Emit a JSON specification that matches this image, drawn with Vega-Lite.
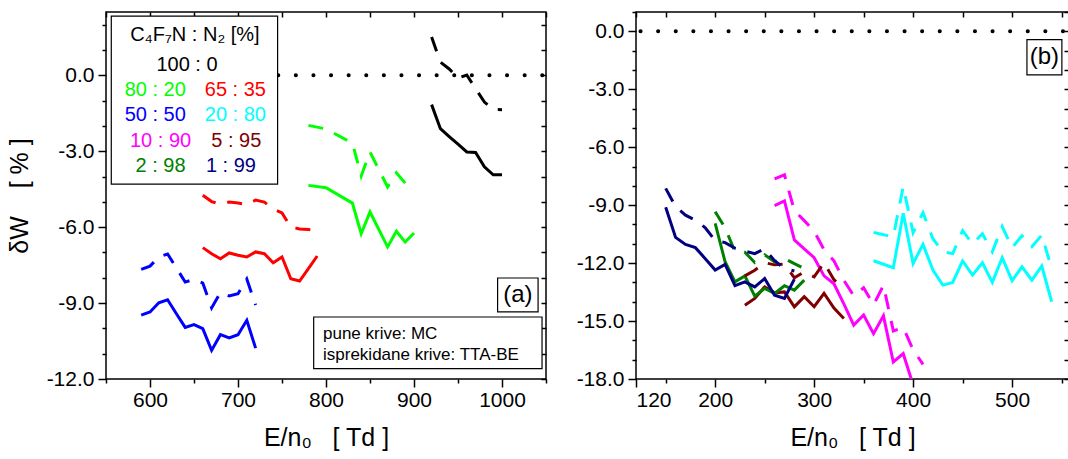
{
  "$schema": "https://vega.github.io/schema/vega-lite/v6.json",
  "padding": {"left": 6, "top": 10, "right": 0, "bottom": 0},
  "background": "white",
  "config": {
    "view": {"stroke": "black", "strokeWidth": 1.5},
    "axis": {"labelFont": "Liberation Sans", "labelFontSize": 21, "labelColor": "black", "titleFont": "Liberation Sans", "titleFontSize": 25, "titleFontWeight": "normal", "titleColor": "black", "tickColor": "black", "tickWidth": 1.5, "domain": false, "grid": false},
    "text": {"font": "Liberation Sans"}
  },
  "spacing": 26,
  "datasets": {
    "curves": [
      {"panel":"a","mix":"100 : 0","method":"MC","E":920,"dW":-1.16},
      {"panel":"a","mix":"100 : 0","method":"MC","E":930,"dW":-2.11},
      {"panel":"a","mix":"100 : 0","method":"MC","E":940,"dW":-2.42},
      {"panel":"a","mix":"100 : 0","method":"MC","E":950,"dW":-2.72},
      {"panel":"a","mix":"100 : 0","method":"MC","E":960,"dW":-3.03},
      {"panel":"a","mix":"100 : 0","method":"MC","E":970,"dW":-3.05},
      {"panel":"a","mix":"100 : 0","method":"MC","E":980,"dW":-3.62},
      {"panel":"a","mix":"100 : 0","method":"MC","E":990,"dW":-3.93},
      {"panel":"a","mix":"100 : 0","method":"MC","E":1000,"dW":-3.93},
      {"panel":"a","mix":"100 : 0","method":"TTA-BE","E":920,"dW":1.51},
      {"panel":"a","mix":"100 : 0","method":"TTA-BE","E":930,"dW":0.52},
      {"panel":"a","mix":"100 : 0","method":"TTA-BE","E":940,"dW":0.25},
      {"panel":"a","mix":"100 : 0","method":"TTA-BE","E":950,"dW":-0.11},
      {"panel":"a","mix":"100 : 0","method":"TTA-BE","E":960,"dW":0.01},
      {"panel":"a","mix":"100 : 0","method":"TTA-BE","E":970,"dW":-0.53},
      {"panel":"a","mix":"100 : 0","method":"TTA-BE","E":980,"dW":-1.06},
      {"panel":"a","mix":"100 : 0","method":"TTA-BE","E":990,"dW":-1.35},
      {"panel":"a","mix":"100 : 0","method":"TTA-BE","E":1000,"dW":-1.36},
      {"panel":"a","mix":"80 : 20","method":"MC","E":780,"dW":-4.35},
      {"panel":"a","mix":"80 : 20","method":"MC","E":800,"dW":-4.44},
      {"panel":"a","mix":"80 : 20","method":"MC","E":830,"dW":-5.05},
      {"panel":"a","mix":"80 : 20","method":"MC","E":840,"dW":-6.26},
      {"panel":"a","mix":"80 : 20","method":"MC","E":850,"dW":-5.40},
      {"panel":"a","mix":"80 : 20","method":"MC","E":870,"dW":-6.78},
      {"panel":"a","mix":"80 : 20","method":"MC","E":880,"dW":-6.16},
      {"panel":"a","mix":"80 : 20","method":"MC","E":890,"dW":-6.59},
      {"panel":"a","mix":"80 : 20","method":"MC","E":900,"dW":-6.23},
      {"panel":"a","mix":"80 : 20","method":"TTA-BE","E":780,"dW":-1.98},
      {"panel":"a","mix":"80 : 20","method":"TTA-BE","E":800,"dW":-2.12},
      {"panel":"a","mix":"80 : 20","method":"TTA-BE","E":830,"dW":-2.68},
      {"panel":"a","mix":"80 : 20","method":"TTA-BE","E":840,"dW":-3.98},
      {"panel":"a","mix":"80 : 20","method":"TTA-BE","E":850,"dW":-3.03},
      {"panel":"a","mix":"80 : 20","method":"TTA-BE","E":870,"dW":-4.41},
      {"panel":"a","mix":"80 : 20","method":"TTA-BE","E":880,"dW":-3.85},
      {"panel":"a","mix":"80 : 20","method":"TTA-BE","E":890,"dW":-4.26},
      {"panel":"a","mix":"65 : 35","method":"MC","E":660,"dW":-6.81},
      {"panel":"a","mix":"65 : 35","method":"MC","E":670,"dW":-7.05},
      {"panel":"a","mix":"65 : 35","method":"MC","E":680,"dW":-7.25},
      {"panel":"a","mix":"65 : 35","method":"MC","E":690,"dW":-7.02},
      {"panel":"a","mix":"65 : 35","method":"MC","E":700,"dW":-7.11},
      {"panel":"a","mix":"65 : 35","method":"MC","E":710,"dW":-7.18},
      {"panel":"a","mix":"65 : 35","method":"MC","E":720,"dW":-6.98},
      {"panel":"a","mix":"65 : 35","method":"MC","E":730,"dW":-7.05},
      {"panel":"a","mix":"65 : 35","method":"MC","E":740,"dW":-7.41},
      {"panel":"a","mix":"65 : 35","method":"MC","E":750,"dW":-7.18},
      {"panel":"a","mix":"65 : 35","method":"MC","E":760,"dW":-8.04},
      {"panel":"a","mix":"65 : 35","method":"MC","E":770,"dW":-8.13},
      {"panel":"a","mix":"65 : 35","method":"MC","E":780,"dW":-7.64},
      {"panel":"a","mix":"65 : 35","method":"MC","E":790,"dW":-7.14},
      {"panel":"a","mix":"65 : 35","method":"TTA-BE","E":660,"dW":-4.74},
      {"panel":"a","mix":"65 : 35","method":"TTA-BE","E":670,"dW":-4.99},
      {"panel":"a","mix":"65 : 35","method":"TTA-BE","E":680,"dW":-5.09},
      {"panel":"a","mix":"65 : 35","method":"TTA-BE","E":690,"dW":-5.01},
      {"panel":"a","mix":"65 : 35","method":"TTA-BE","E":700,"dW":-5.05},
      {"panel":"a","mix":"65 : 35","method":"TTA-BE","E":710,"dW":-5.11},
      {"panel":"a","mix":"65 : 35","method":"TTA-BE","E":720,"dW":-4.93},
      {"panel":"a","mix":"65 : 35","method":"TTA-BE","E":730,"dW":-5.01},
      {"panel":"a","mix":"65 : 35","method":"TTA-BE","E":740,"dW":-5.28},
      {"panel":"a","mix":"65 : 35","method":"TTA-BE","E":750,"dW":-5.44},
      {"panel":"a","mix":"65 : 35","method":"TTA-BE","E":760,"dW":-6.0},
      {"panel":"a","mix":"65 : 35","method":"TTA-BE","E":770,"dW":-6.07},
      {"panel":"a","mix":"65 : 35","method":"TTA-BE","E":780,"dW":-6.09},
      {"panel":"a","mix":"65 : 35","method":"TTA-BE","E":790,"dW":-6.13},
      {"panel":"a","mix":"50 : 50","method":"MC","E":590,"dW":-9.48},
      {"panel":"a","mix":"50 : 50","method":"MC","E":600,"dW":-9.35},
      {"panel":"a","mix":"50 : 50","method":"MC","E":610,"dW":-8.99},
      {"panel":"a","mix":"50 : 50","method":"MC","E":620,"dW":-8.87},
      {"panel":"a","mix":"50 : 50","method":"MC","E":630,"dW":-9.42},
      {"panel":"a","mix":"50 : 50","method":"MC","E":640,"dW":-9.96},
      {"panel":"a","mix":"50 : 50","method":"MC","E":650,"dW":-9.85},
      {"panel":"a","mix":"50 : 50","method":"MC","E":660,"dW":-10.01},
      {"panel":"a","mix":"50 : 50","method":"MC","E":670,"dW":-10.87},
      {"panel":"a","mix":"50 : 50","method":"MC","E":680,"dW":-10.25},
      {"panel":"a","mix":"50 : 50","method":"MC","E":690,"dW":-10.38},
      {"panel":"a","mix":"50 : 50","method":"MC","E":700,"dW":-10.25},
      {"panel":"a","mix":"50 : 50","method":"MC","E":710,"dW":-9.68},
      {"panel":"a","mix":"50 : 50","method":"MC","E":720,"dW":-10.78},
      {"panel":"a","mix":"50 : 50","method":"TTA-BE","E":590,"dW":-7.67},
      {"panel":"a","mix":"50 : 50","method":"TTA-BE","E":600,"dW":-7.54},
      {"panel":"a","mix":"50 : 50","method":"TTA-BE","E":610,"dW":-7.18},
      {"panel":"a","mix":"50 : 50","method":"TTA-BE","E":620,"dW":-7.06},
      {"panel":"a","mix":"50 : 50","method":"TTA-BE","E":630,"dW":-7.61},
      {"panel":"a","mix":"50 : 50","method":"TTA-BE","E":640,"dW":-8.17},
      {"panel":"a","mix":"50 : 50","method":"TTA-BE","E":650,"dW":-8.06},
      {"panel":"a","mix":"50 : 50","method":"TTA-BE","E":660,"dW":-8.21},
      {"panel":"a","mix":"50 : 50","method":"TTA-BE","E":670,"dW":-9.19},
      {"panel":"a","mix":"50 : 50","method":"TTA-BE","E":680,"dW":-8.59},
      {"panel":"a","mix":"50 : 50","method":"TTA-BE","E":690,"dW":-8.72},
      {"panel":"a","mix":"50 : 50","method":"TTA-BE","E":700,"dW":-8.63},
      {"panel":"a","mix":"50 : 50","method":"TTA-BE","E":710,"dW":-8.05},
      {"panel":"a","mix":"50 : 50","method":"TTA-BE","E":720,"dW":-9.08},
      {"panel":"b","mix":"20 : 80","method":"MC","E":360,"dW":-11.88},
      {"panel":"b","mix":"20 : 80","method":"MC","E":370,"dW":-12.06},
      {"panel":"b","mix":"20 : 80","method":"MC","E":380,"dW":-12.24},
      {"panel":"b","mix":"20 : 80","method":"MC","E":390,"dW":-9.42},
      {"panel":"b","mix":"20 : 80","method":"MC","E":400,"dW":-12.02},
      {"panel":"b","mix":"20 : 80","method":"MC","E":410,"dW":-11.03},
      {"panel":"b","mix":"20 : 80","method":"MC","E":420,"dW":-12.36},
      {"panel":"b","mix":"20 : 80","method":"MC","E":430,"dW":-13.14},
      {"panel":"b","mix":"20 : 80","method":"MC","E":440,"dW":-13.0},
      {"panel":"b","mix":"20 : 80","method":"MC","E":450,"dW":-11.89},
      {"panel":"b","mix":"20 : 80","method":"MC","E":460,"dW":-12.62},
      {"panel":"b","mix":"20 : 80","method":"MC","E":470,"dW":-11.98},
      {"panel":"b","mix":"20 : 80","method":"MC","E":480,"dW":-13.0},
      {"panel":"b","mix":"20 : 80","method":"MC","E":490,"dW":-11.72},
      {"panel":"b","mix":"20 : 80","method":"MC","E":500,"dW":-12.91},
      {"panel":"b","mix":"20 : 80","method":"MC","E":510,"dW":-12.19},
      {"panel":"b","mix":"20 : 80","method":"MC","E":520,"dW":-12.88},
      {"panel":"b","mix":"20 : 80","method":"MC","E":530,"dW":-12.15},
      {"panel":"b","mix":"20 : 80","method":"MC","E":540,"dW":-14.0},
      {"panel":"b","mix":"20 : 80","method":"TTA-BE","E":360,"dW":-10.41},
      {"panel":"b","mix":"20 : 80","method":"TTA-BE","E":370,"dW":-10.53},
      {"panel":"b","mix":"20 : 80","method":"TTA-BE","E":380,"dW":-10.63},
      {"panel":"b","mix":"20 : 80","method":"TTA-BE","E":390,"dW":-8.04},
      {"panel":"b","mix":"20 : 80","method":"TTA-BE","E":400,"dW":-10.43},
      {"panel":"b","mix":"20 : 80","method":"TTA-BE","E":410,"dW":-9.39},
      {"panel":"b","mix":"20 : 80","method":"TTA-BE","E":420,"dW":-10.74},
      {"panel":"b","mix":"20 : 80","method":"TTA-BE","E":430,"dW":-11.41},
      {"panel":"b","mix":"20 : 80","method":"TTA-BE","E":440,"dW":-11.51},
      {"panel":"b","mix":"20 : 80","method":"TTA-BE","E":450,"dW":-10.32},
      {"panel":"b","mix":"20 : 80","method":"TTA-BE","E":460,"dW":-11.0},
      {"panel":"b","mix":"20 : 80","method":"TTA-BE","E":470,"dW":-10.48},
      {"panel":"b","mix":"20 : 80","method":"TTA-BE","E":480,"dW":-11.41},
      {"panel":"b","mix":"20 : 80","method":"TTA-BE","E":490,"dW":-10.11},
      {"panel":"b","mix":"20 : 80","method":"TTA-BE","E":500,"dW":-11.2},
      {"panel":"b","mix":"20 : 80","method":"TTA-BE","E":510,"dW":-10.58},
      {"panel":"b","mix":"20 : 80","method":"TTA-BE","E":520,"dW":-11.15},
      {"panel":"b","mix":"20 : 80","method":"TTA-BE","E":530,"dW":-10.55},
      {"panel":"b","mix":"20 : 80","method":"TTA-BE","E":540,"dW":-12.29},
      {"panel":"b","mix":"10 : 90","method":"MC","E":260,"dW":-9.02},
      {"panel":"b","mix":"10 : 90","method":"MC","E":270,"dW":-8.78},
      {"panel":"b","mix":"10 : 90","method":"MC","E":280,"dW":-10.8},
      {"panel":"b","mix":"10 : 90","method":"MC","E":290,"dW":-11.26},
      {"panel":"b","mix":"10 : 90","method":"MC","E":300,"dW":-11.72},
      {"panel":"b","mix":"10 : 90","method":"MC","E":310,"dW":-12.66},
      {"panel":"b","mix":"10 : 90","method":"MC","E":320,"dW":-13.07},
      {"panel":"b","mix":"10 : 90","method":"MC","E":330,"dW":-14.11},
      {"panel":"b","mix":"10 : 90","method":"MC","E":340,"dW":-15.21},
      {"panel":"b","mix":"10 : 90","method":"MC","E":350,"dW":-14.69},
      {"panel":"b","mix":"10 : 90","method":"MC","E":360,"dW":-15.65},
      {"panel":"b","mix":"10 : 90","method":"MC","E":370,"dW":-14.73},
      {"panel":"b","mix":"10 : 90","method":"MC","E":380,"dW":-17.12},
      {"panel":"b","mix":"10 : 90","method":"MC","E":390,"dW":-16.69},
      {"panel":"b","mix":"10 : 90","method":"MC","E":400,"dW":-18.3},
      {"panel":"b","mix":"10 : 90","method":"TTA-BE","E":260,"dW":-7.64},
      {"panel":"b","mix":"10 : 90","method":"TTA-BE","E":270,"dW":-7.43},
      {"panel":"b","mix":"10 : 90","method":"TTA-BE","E":280,"dW":-9.28},
      {"panel":"b","mix":"10 : 90","method":"TTA-BE","E":290,"dW":-9.8},
      {"panel":"b","mix":"10 : 90","method":"TTA-BE","E":300,"dW":-10.35},
      {"panel":"b","mix":"10 : 90","method":"TTA-BE","E":310,"dW":-11.31},
      {"panel":"b","mix":"10 : 90","method":"TTA-BE","E":320,"dW":-11.88},
      {"panel":"b","mix":"10 : 90","method":"TTA-BE","E":330,"dW":-12.89},
      {"panel":"b","mix":"10 : 90","method":"TTA-BE","E":340,"dW":-13.69},
      {"panel":"b","mix":"10 : 90","method":"TTA-BE","E":350,"dW":-13.28},
      {"panel":"b","mix":"10 : 90","method":"TTA-BE","E":360,"dW":-14.16},
      {"panel":"b","mix":"10 : 90","method":"TTA-BE","E":370,"dW":-13.15},
      {"panel":"b","mix":"10 : 90","method":"TTA-BE","E":380,"dW":-15.51},
      {"panel":"b","mix":"10 : 90","method":"TTA-BE","E":390,"dW":-15.33},
      {"panel":"b","mix":"10 : 90","method":"TTA-BE","E":400,"dW":-16.49},
      {"panel":"b","mix":"10 : 90","method":"TTA-BE","E":410,"dW":-17.24},
      {"panel":"b","mix":"5 : 95","method":"MC","E":230,"dW":-14.18},
      {"panel":"b","mix":"5 : 95","method":"MC","E":240,"dW":-13.83},
      {"panel":"b","mix":"5 : 95","method":"MC","E":250,"dW":-13.23},
      {"panel":"b","mix":"5 : 95","method":"MC","E":260,"dW":-13.54},
      {"panel":"b","mix":"5 : 95","method":"MC","E":270,"dW":-13.49},
      {"panel":"b","mix":"5 : 95","method":"MC","E":280,"dW":-14.26},
      {"panel":"b","mix":"5 : 95","method":"MC","E":290,"dW":-13.74},
      {"panel":"b","mix":"5 : 95","method":"MC","E":300,"dW":-14.26},
      {"panel":"b","mix":"5 : 95","method":"MC","E":310,"dW":-13.57},
      {"panel":"b","mix":"5 : 95","method":"MC","E":320,"dW":-14.33},
      {"panel":"b","mix":"5 : 95","method":"MC","E":330,"dW":-14.87},
      {"panel":"b","mix":"5 : 95","method":"TTA-BE","E":230,"dW":-12.66},
      {"panel":"b","mix":"5 : 95","method":"TTA-BE","E":240,"dW":-12.37},
      {"panel":"b","mix":"5 : 95","method":"TTA-BE","E":250,"dW":-11.98},
      {"panel":"b","mix":"5 : 95","method":"TTA-BE","E":260,"dW":-12.09},
      {"panel":"b","mix":"5 : 95","method":"TTA-BE","E":270,"dW":-12.06},
      {"panel":"b","mix":"5 : 95","method":"TTA-BE","E":280,"dW":-12.76},
      {"panel":"b","mix":"5 : 95","method":"TTA-BE","E":290,"dW":-12.45},
      {"panel":"b","mix":"5 : 95","method":"TTA-BE","E":300,"dW":-12.71},
      {"panel":"b","mix":"5 : 95","method":"TTA-BE","E":310,"dW":-11.98},
      {"panel":"b","mix":"5 : 95","method":"TTA-BE","E":320,"dW":-12.86},
      {"panel":"b","mix":"5 : 95","method":"TTA-BE","E":330,"dW":-13.33},
      {"panel":"b","mix":"2 : 98","method":"MC","E":200,"dW":-9.94},
      {"panel":"b","mix":"2 : 98","method":"MC","E":210,"dW":-11.93},
      {"panel":"b","mix":"2 : 98","method":"MC","E":220,"dW":-12.97},
      {"panel":"b","mix":"2 : 98","method":"MC","E":230,"dW":-12.66},
      {"panel":"b","mix":"2 : 98","method":"MC","E":240,"dW":-13.71},
      {"panel":"b","mix":"2 : 98","method":"MC","E":250,"dW":-13.31},
      {"panel":"b","mix":"2 : 98","method":"MC","E":260,"dW":-13.57},
      {"panel":"b","mix":"2 : 98","method":"MC","E":270,"dW":-13.17},
      {"panel":"b","mix":"2 : 98","method":"MC","E":280,"dW":-13.4},
      {"panel":"b","mix":"2 : 98","method":"MC","E":290,"dW":-12.88},
      {"panel":"b","mix":"2 : 98","method":"TTA-BE","E":200,"dW":-9.34},
      {"panel":"b","mix":"2 : 98","method":"TTA-BE","E":210,"dW":-10.17},
      {"panel":"b","mix":"2 : 98","method":"TTA-BE","E":220,"dW":-11.41},
      {"panel":"b","mix":"2 : 98","method":"TTA-BE","E":230,"dW":-11.44},
      {"panel":"b","mix":"2 : 98","method":"TTA-BE","E":240,"dW":-11.97},
      {"panel":"b","mix":"2 : 98","method":"TTA-BE","E":250,"dW":-11.57},
      {"panel":"b","mix":"2 : 98","method":"TTA-BE","E":260,"dW":-11.93},
      {"panel":"b","mix":"2 : 98","method":"TTA-BE","E":270,"dW":-11.76},
      {"panel":"b","mix":"2 : 98","method":"TTA-BE","E":280,"dW":-12.03},
      {"panel":"b","mix":"2 : 98","method":"TTA-BE","E":290,"dW":-12.28},
      {"panel":"b","mix":"1 : 99","method":"MC","E":150,"dW":-9.11},
      {"panel":"b","mix":"1 : 99","method":"MC","E":160,"dW":-10.67},
      {"panel":"b","mix":"1 : 99","method":"MC","E":170,"dW":-11.03},
      {"panel":"b","mix":"1 : 99","method":"MC","E":180,"dW":-11.2},
      {"panel":"b","mix":"1 : 99","method":"MC","E":190,"dW":-11.77},
      {"panel":"b","mix":"1 : 99","method":"MC","E":200,"dW":-12.36},
      {"panel":"b","mix":"1 : 99","method":"MC","E":210,"dW":-12.07},
      {"panel":"b","mix":"1 : 99","method":"MC","E":220,"dW":-13.17},
      {"panel":"b","mix":"1 : 99","method":"MC","E":230,"dW":-12.97},
      {"panel":"b","mix":"1 : 99","method":"MC","E":240,"dW":-13.23},
      {"panel":"b","mix":"1 : 99","method":"MC","E":250,"dW":-12.8},
      {"panel":"b","mix":"1 : 99","method":"MC","E":260,"dW":-13.66},
      {"panel":"b","mix":"1 : 99","method":"MC","E":270,"dW":-13.83},
      {"panel":"b","mix":"1 : 99","method":"MC","E":280,"dW":-12.83},
      {"panel":"b","mix":"1 : 99","method":"TTA-BE","E":150,"dW":-8.13},
      {"panel":"b","mix":"1 : 99","method":"TTA-BE","E":160,"dW":-9.08},
      {"panel":"b","mix":"1 : 99","method":"TTA-BE","E":170,"dW":-9.52},
      {"panel":"b","mix":"1 : 99","method":"TTA-BE","E":180,"dW":-9.78},
      {"panel":"b","mix":"1 : 99","method":"TTA-BE","E":190,"dW":-10.17},
      {"panel":"b","mix":"1 : 99","method":"TTA-BE","E":200,"dW":-10.84},
      {"panel":"b","mix":"1 : 99","method":"TTA-BE","E":210,"dW":-10.94},
      {"panel":"b","mix":"1 : 99","method":"TTA-BE","E":220,"dW":-11.23},
      {"panel":"b","mix":"1 : 99","method":"TTA-BE","E":230,"dW":-11.38},
      {"panel":"b","mix":"1 : 99","method":"TTA-BE","E":240,"dW":-11.51},
      {"panel":"b","mix":"1 : 99","method":"TTA-BE","E":250,"dW":-11.26},
      {"panel":"b","mix":"1 : 99","method":"TTA-BE","E":260,"dW":-11.88},
      {"panel":"b","mix":"1 : 99","method":"TTA-BE","E":270,"dW":-12.28},
      {"panel":"b","mix":"1 : 99","method":"TTA-BE","E":280,"dW":-12.41}
    ],
    "notes": [
      {"panel":"a","kind":"box","E":556,"E2":745,"dW":2.34,"dW2":-4.3},
      {"panel":"a","kind":"head","text":"C\u2084F\u2087N : N\u2082 [%]","E":651,"dW":1.59},
      {"panel":"a","kind":"mix","mix":"100 : 0","E":642,"dW":0.41},
      {"panel":"a","kind":"mix","mix":"80 : 20","E":606,"dW":-0.58},
      {"panel":"a","kind":"mix","mix":"65 : 35","E":697,"dW":-0.58},
      {"panel":"a","kind":"mix","mix":"50 : 50","E":606,"dW":-1.57},
      {"panel":"a","kind":"mix","mix":"20 : 80","E":697,"dW":-1.57},
      {"panel":"a","kind":"mix","mix":"10 : 90","E":612,"dW":-2.6},
      {"panel":"a","kind":"mix","mix":"5 : 95","E":698,"dW":-2.6},
      {"panel":"a","kind":"mix","mix":"2 : 98","E":612,"dW":-3.58},
      {"panel":"a","kind":"mix","mix":"1 : 99","E":692,"dW":-3.58},
      {"panel":"a","kind":"box","E":995,"E2":1041,"dW":-8.01,"dW2":-9.35},
      {"panel":"a","kind":"tag","text":"(a)","E":1018,"dW":-8.68},
      {"panel":"a","kind":"box","E":786,"E2":1045.5,"dW":-9.55,"dW2":-11.59},
      {"panel":"a","kind":"note","text":"pune krive: MC","E":796.6,"dW":-10.21},
      {"panel":"a","kind":"note","text":"isprekidane krive: TTA-BE","E":796.6,"dW":-11.06},
      {"panel":"b","kind":"box","E":515,"E2":550.3,"dW":-0.43,"dW2":-2.25},
      {"panel":"b","kind":"tag","text":"(b)","E":532.6,"dW":-1.34}
    ],
    "refs": [{"ref": 0}]
  },
  "hconcat": [
    {
      "width": 440,
      "height": 367,
      "resolve": {"axis": {"x": "independent", "y": "independent"}},
      "layer": [
        {
          "data": {"name": "refs"},
          "mark": {"type": "rule", "color": "black", "strokeWidth": 4, "strokeCap": "round", "strokeDash": [0.1, 17.5], "strokeDashOffset": -3.7},
          "encoding": {"y": {"field": "ref", "type": "quantitative", "scale": {"domain": [-12, 2.5], "nice": false, "zero": false}, "axis": null}}
        },
        {
          "data": {"name": "curves"},
          "transform": [{"filter": "datum.panel === 'a' && datum.method === 'MC'"}],
          "mark": {"type": "line", "strokeWidth": 3, "clip": true},
          "encoding": {
            "x": {"field": "E", "type": "quantitative", "scale": {"domain": [550, 1050], "nice": false, "zero": false},
              "axis": {"orient": "bottom", "values": [550,600,650,700,750,800,850,900,950,1000,1050], "format": "d", "labelExpr": "datum.value % 100 === 0 ? datum.label : ''", "tickSize": {"condition": {"test": "datum.value % 100 === 0", "value": 8}, "value": 4}, "labelPadding": 2, "title": "E/n\u2080\u00a0\u00a0\u00a0[ Td ]", "titlePadding": 15}},
            "y": {"field": "dW", "type": "quantitative", "scale": {"domain": [-12, 2.5], "nice": false, "zero": false},
              "axis": {"orient": "left", "values": [-12,-11,-10,-9,-8,-7,-6,-5,-4,-3,-2,-1,0,1,2], "labelExpr": "datum.value % 3 === 0 ? (datum.value < 0 ? '-' + format(-datum.value, '.1f') : format(datum.value, '.1f')) : ''", "tickSize": {"condition": {"test": "datum.value % 3 === 0", "value": 8}, "value": 4}, "labelPadding": 4, "title": "\u03b4W\u00a0\u00a0\u00a0\u00a0[ % ]", "titlePadding": 14}},
            "color": {"field": "mix", "type": "nominal", "legend": null, "scale": {"domain": ["100 : 0","80 : 20","65 : 35","50 : 50","20 : 80","10 : 90","5 : 95","2 : 98","1 : 99"], "range": ["#000000","#00ff00","#ff0000","#0000ff","#00ffff","#ff00ff","#800000","#008000","#000080"]}},
            "detail": {"field": "mix"}
          }
        },
        {
          "data": {"name": "curves"},
          "transform": [{"filter": "datum.panel === 'a' && datum.method === 'TTA-BE'"}],
          "mark": {"type": "line", "strokeWidth": 3, "strokeDash": [15, 12], "clip": true},
          "encoding": {
            "x": {"field": "E", "type": "quantitative", "scale": {"domain": [550, 1050], "nice": false, "zero": false},
              "axis": {"orient": "top", "values": [550,600,650,700,750,800,850,900,950,1000,1050], "labels": false, "tickSize": -5, "title": null}},
            "y": {"field": "dW", "type": "quantitative", "scale": {"domain": [-12, 2.5], "nice": false, "zero": false},
              "axis": {"orient": "right", "values": [-12,-11,-10,-9,-8,-7,-6,-5,-4,-3,-2,-1,0,1,2], "labels": false, "tickSize": -5, "title": null}},
            "color": {"field": "mix", "type": "nominal", "legend": null},
            "detail": {"field": "mix"}
          }
        },
        {
          "data": {"name": "notes"},
          "transform": [{"filter": "datum.panel === 'a' && datum.kind === 'box'"}],
          "mark": {"type": "rect", "fill": "white", "stroke": "black", "strokeWidth": 1.2},
          "encoding": {
            "x": {"field": "E", "type": "quantitative", "scale": {"domain": [550, 1050], "nice": false, "zero": false}, "axis": null},
            "x2": {"field": "E2"},
            "y": {"field": "dW", "type": "quantitative", "scale": {"domain": [-12, 2.5], "nice": false, "zero": false}, "axis": null},
            "y2": {"field": "dW2"}
          }
        },
        {
          "data": {"name": "notes"},
          "transform": [{"filter": "datum.panel === 'a' && datum.kind === 'head'"}],
          "mark": {"type": "text", "fontSize": 20, "color": "black", "align": "center", "baseline": "middle"},
          "encoding": {
            "x": {"field": "E", "type": "quantitative", "scale": {"domain": [550, 1050], "nice": false, "zero": false}, "axis": null},
            "y": {"field": "dW", "type": "quantitative", "scale": {"domain": [-12, 2.5], "nice": false, "zero": false}, "axis": null},
            "text": {"field": "text"}
          }
        },
        {
          "data": {"name": "notes"},
          "transform": [{"filter": "datum.panel === 'a' && datum.kind === 'tag'"}],
          "mark": {"type": "text", "fontSize": 24, "color": "black", "align": "center", "baseline": "middle"},
          "encoding": {
            "x": {"field": "E", "type": "quantitative", "scale": {"domain": [550, 1050], "nice": false, "zero": false}, "axis": null},
            "y": {"field": "dW", "type": "quantitative", "scale": {"domain": [-12, 2.5], "nice": false, "zero": false}, "axis": null},
            "text": {"field": "text"}
          }
        },
        {
          "data": {"name": "notes"},
          "transform": [{"filter": "datum.panel === 'a' && datum.kind === 'note'"}],
          "mark": {"type": "text", "fontSize": 17, "color": "black", "align": "left", "baseline": "middle"},
          "encoding": {
            "x": {"field": "E", "type": "quantitative", "scale": {"domain": [550, 1050], "nice": false, "zero": false}, "axis": null},
            "y": {"field": "dW", "type": "quantitative", "scale": {"domain": [-12, 2.5], "nice": false, "zero": false}, "axis": null},
            "text": {"field": "text"}
          }
        },
        {
          "data": {"name": "notes"},
          "transform": [{"filter": "datum.panel === 'a' && datum.kind === 'mix'"}],
          "mark": {"type": "text", "fontSize": 20, "align": "center", "baseline": "middle"},
          "encoding": {
            "x": {"field": "E", "type": "quantitative", "scale": {"domain": [550, 1050], "nice": false, "zero": false}, "axis": null},
            "y": {"field": "dW", "type": "quantitative", "scale": {"domain": [-12, 2.5], "nice": false, "zero": false}, "axis": null},
            "text": {"field": "mix"},
            "color": {"field": "mix", "type": "nominal", "legend": null}
          }
        }
      ]
    },
    {
      "width": 433,
      "height": 367,
      "resolve": {"axis": {"x": "independent", "y": "independent"}},
      "layer": [
        {
          "data": {"name": "refs"},
          "mark": {"type": "rule", "color": "black", "strokeWidth": 4, "strokeCap": "round", "strokeDash": [0.1, 17.5], "strokeDashOffset": -6},
          "encoding": {"y": {"field": "ref", "type": "quantitative", "scale": {"domain": [-18, 1], "nice": false, "zero": false}, "axis": null}}
        },
        {
          "data": {"name": "curves"},
          "transform": [{"filter": "datum.panel === 'b' && datum.method === 'MC'"}],
          "mark": {"type": "line", "strokeWidth": 3, "clip": true},
          "encoding": {
            "x": {"field": "E", "type": "quantitative", "scale": {"domain": [120, 557.5], "nice": false, "zero": false},
              "axis": {"orient": "bottom", "values": [120,150,200,250,300,350,400,450,500,550], "format": "d", "labelExpr": "(datum.value % 100 === 0 || datum.value === 120) ? datum.label : ''", "tickSize": {"condition": {"test": "datum.value % 100 === 0 || datum.value === 120", "value": 8}, "value": 4}, "labelPadding": 2, "title": "E/n\u2080\u00a0\u00a0\u00a0[ Td ]", "titlePadding": 15}},
            "y": {"field": "dW", "type": "quantitative", "scale": {"domain": [-18, 1], "nice": false, "zero": false},
              "axis": {"orient": "left", "values": [-18,-17,-16,-15,-14,-13,-12,-11,-10,-9,-8,-7,-6,-5,-4,-3,-2,-1,0,1], "labelExpr": "datum.value % 3 === 0 ? (datum.value < 0 ? '-' + format(-datum.value, '.1f') : format(datum.value, '.1f')) : ''", "tickSize": {"condition": {"test": "datum.value % 3 === 0", "value": 8}, "value": 4}, "labelPadding": 4, "title": null}},
            "color": {"field": "mix", "type": "nominal", "legend": null, "scale": {"domain": ["100 : 0","80 : 20","65 : 35","50 : 50","20 : 80","10 : 90","5 : 95","2 : 98","1 : 99"], "range": ["#000000","#00ff00","#ff0000","#0000ff","#00ffff","#ff00ff","#800000","#008000","#000080"]}},
            "detail": {"field": "mix"}
          }
        },
        {
          "data": {"name": "curves"},
          "transform": [{"filter": "datum.panel === 'b' && datum.method === 'TTA-BE'"}],
          "mark": {"type": "line", "strokeWidth": 3, "strokeDash": [15, 12], "clip": true},
          "encoding": {
            "x": {"field": "E", "type": "quantitative", "scale": {"domain": [120, 557.5], "nice": false, "zero": false},
              "axis": {"orient": "top", "values": [120,150,200,250,300,350,400,450,500,550], "labels": false, "tickSize": -5, "title": null}},
            "y": {"field": "dW", "type": "quantitative", "scale": {"domain": [-18, 1], "nice": false, "zero": false},
              "axis": {"orient": "right", "values": [-18,-17,-16,-15,-14,-13,-12,-11,-10,-9,-8,-7,-6,-5,-4,-3,-2,-1,0,1], "labels": false, "tickSize": -5, "title": null}},
            "color": {"field": "mix", "type": "nominal", "legend": null},
            "detail": {"field": "mix"}
          }
        },
        {
          "data": {"name": "notes"},
          "transform": [{"filter": "datum.panel === 'b' && datum.kind === 'box'"}],
          "mark": {"type": "rect", "fill": "white", "stroke": "black", "strokeWidth": 1.2},
          "encoding": {
            "x": {"field": "E", "type": "quantitative", "scale": {"domain": [120, 557.5], "nice": false, "zero": false}, "axis": null},
            "x2": {"field": "E2"},
            "y": {"field": "dW", "type": "quantitative", "scale": {"domain": [-18, 1], "nice": false, "zero": false}, "axis": null},
            "y2": {"field": "dW2"}
          }
        },
        {
          "data": {"name": "notes"},
          "transform": [{"filter": "datum.panel === 'b' && datum.kind === 'tag'"}],
          "mark": {"type": "text", "fontSize": 24, "color": "black", "align": "center", "baseline": "middle"},
          "encoding": {
            "x": {"field": "E", "type": "quantitative", "scale": {"domain": [120, 557.5], "nice": false, "zero": false}, "axis": null},
            "y": {"field": "dW", "type": "quantitative", "scale": {"domain": [-18, 1], "nice": false, "zero": false}, "axis": null},
            "text": {"field": "text"}
          }
        }
      ]
    }
  ]
}
